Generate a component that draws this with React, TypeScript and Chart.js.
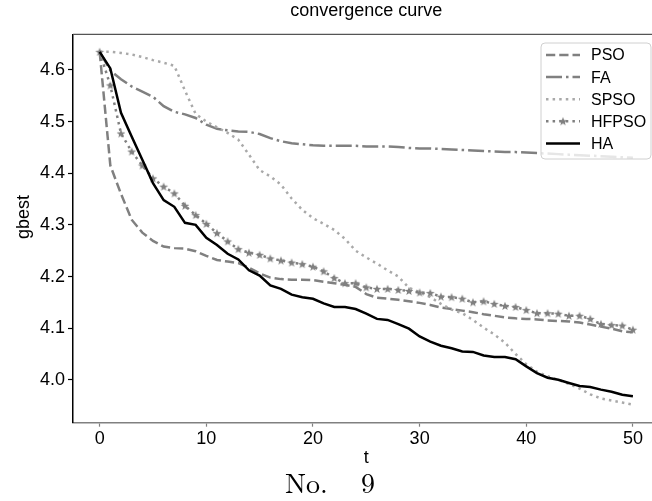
import React, { useEffect, useRef } from "react";
import { Chart, registerables } from "chart.js";

Chart.register(...registerables);

const seriesNames = ["PSO", "FA", "SPSO", "HFPSO", "HA"];
const tValues = Array.from({ length: 51 }, (_, i) => i);
const xTicks = [0, 10, 20, 30, 40, 50];
const yTicks = [4.0, 4.1, 4.2, 4.3, 4.4, 4.5, 4.6];

const psoValues = [
  4.635, 4.415, 4.36, 4.31, 4.285, 4.269, 4.258, 4.255, 4.254, 4.249,
  4.24, 4.232, 4.229, 4.226, 4.217, 4.206, 4.198, 4.195, 4.194, 4.194,
  4.193, 4.19, 4.187, 4.184, 4.18, 4.166, 4.159, 4.157, 4.155, 4.152,
  4.149, 4.145, 4.14, 4.137, 4.134, 4.131, 4.127, 4.124, 4.121, 4.119,
  4.118, 4.117, 4.115, 4.114, 4.113, 4.111, 4.107, 4.103, 4.099, 4.094,
  4.092,
];
const faValues = [
  4.635, 4.599, 4.582, 4.568, 4.558, 4.548, 4.53, 4.519, 4.514, 4.507,
  4.494, 4.486, 4.483, 4.481, 4.48, 4.476, 4.468, 4.462, 4.458, 4.456,
  4.454, 4.453, 4.453, 4.453, 4.453, 4.452, 4.452, 4.452, 4.451, 4.449,
  4.448, 4.448, 4.447, 4.446, 4.445, 4.444, 4.443, 4.442, 4.441, 4.441,
  4.44, 4.439, 4.438, 4.437, 4.436, 4.435, 4.434, 4.433, 4.432, 4.431,
  4.43,
];
const spsoValues = [
  4.635, 4.635, 4.633, 4.63, 4.625, 4.619, 4.614, 4.608, 4.56, 4.515,
  4.5, 4.489, 4.478, 4.465, 4.436, 4.406, 4.394, 4.378, 4.351, 4.329,
  4.313, 4.302, 4.29, 4.273, 4.25, 4.237, 4.225, 4.212, 4.2, 4.178,
  4.17, 4.16, 4.147, 4.136, 4.129, 4.116, 4.101, 4.088, 4.072, 4.05,
  4.03, 4.016, 4.007, 4.0, 3.992, 3.983, 3.972, 3.964, 3.96, 3.956,
  3.952,
];
const hfpsoValues = [
  4.635, 4.57, 4.477, 4.442, 4.415, 4.39, 4.374, 4.361, 4.337, 4.319,
  4.302, 4.284, 4.268, 4.253, 4.246, 4.242, 4.235, 4.231, 4.227, 4.224,
  4.219, 4.21, 4.197, 4.187, 4.187, 4.179, 4.176, 4.176, 4.174, 4.172,
  4.169, 4.168, 4.161, 4.16, 4.157, 4.15, 4.152, 4.147, 4.143, 4.141,
  4.135, 4.129, 4.129, 4.128, 4.124, 4.124, 4.118, 4.108, 4.106, 4.105,
  4.097,
];
const haValues = [
  4.635, 4.603, 4.517, 4.471, 4.426, 4.381, 4.348, 4.335, 4.304, 4.3,
  4.275, 4.261, 4.244, 4.233, 4.212, 4.202, 4.183, 4.176, 4.165, 4.16,
  4.157, 4.148, 4.141, 4.141, 4.137, 4.128, 4.118, 4.116, 4.108, 4.099,
  4.084, 4.074, 4.066, 4.061, 4.055, 4.054, 4.047, 4.044, 4.044, 4.04,
  4.026, 4.013, 4.004, 4.0, 3.994, 3.988, 3.986, 3.981, 3.977, 3.971,
  3.968,
];

const SANS = "'Liberation Sans', Arial, Helvetica, sans-serif";
const SERIF = "'Latin Modern Roman', 'Liberation Serif', 'DejaVu Serif', serif";

function makeStar(color: string): HTMLCanvasElement {
  const c = document.createElement("canvas");
  c.width = 10;
  c.height = 10;
  const ctx = c.getContext("2d")!;
  const cx = 5, cy = 5.3, R = 4.6, r = 1.9;
  ctx.beginPath();
  for (let i = 0; i < 10; i++) {
    const rad = i % 2 === 0 ? R : r;
    const a = -Math.PI / 2 + (i * Math.PI) / 5;
    const px = cx + rad * Math.cos(a);
    const py = cy + rad * Math.sin(a);
    if (i === 0) ctx.moveTo(px, py);
    else ctx.lineTo(px, py);
  }
  ctx.closePath();
  ctx.fillStyle = color;
  ctx.fill();
  return c;
}

export default function App() {
  const ref = useRef<HTMLCanvasElement | null>(null);

  useEffect(() => {
    if (!ref.current) return;
    const star = makeStar("#808080");
    const lw = 2.5;
    const styles = [
      { color: "#808080", dash: [9.25, 4], point: false },
      { color: "#808080", dash: [16, 4, 2.5, 4], point: false },
      { color: "#a9a9a9", dash: [2.5, 4.1], point: false },
      { color: "#808080", dash: [2.5, 4.1], point: true },
      { color: "#000000", dash: [], point: false },
    ];
    const values = [psoValues, faValues, spsoValues, hfpsoValues, haValues];

    const datasets = seriesNames.map((name, i) => ({
      label: name,
      data: tValues.map((t, k) => ({ x: t, y: values[i][k] })),
      borderColor: styles[i].color,
      backgroundColor: styles[i].color,
      borderWidth: lw,
      borderDash: styles[i].dash,
      borderCapStyle: "butt" as const,
      tension: 0,
      fill: false,
      pointRadius: styles[i].point ? 3 : 0,
      pointStyle: styles[i].point ? (star as any) : "circle",
      order: seriesNames.length - i,
    }));

    const decor = {
      id: "decor",
      afterDraw(chart: any) {
        const ctx = chart.ctx as CanvasRenderingContext2D;
        const a = chart.chartArea;
        ctx.save();
        // top spine
        ctx.strokeStyle = "#555555";
        ctx.lineWidth = 1.2;
        ctx.beginPath();
        ctx.moveTo(a.left, a.top);
        ctx.lineTo(a.right, a.top);
        ctx.stroke();

        // texts
        ctx.fillStyle = "#000";
        ctx.textAlign = "center";
        ctx.textBaseline = "middle";
        ctx.font = `18px ${SANS}`;
        const cx = (a.left + a.right) / 2;
        ctx.fillText("convergence curve", cx, 11);
        ctx.fillText("t", cx, 458);
        ctx.save();
        ctx.translate(24, 217);
        ctx.rotate(-Math.PI / 2);
        ctx.fillText("gbest", 0, 0);
        ctx.restore();
        ctx.font = `28px ${SERIF}`;
        (ctx as any).wordSpacing = "24px";
        ctx.fillText("No. 9", 330, 484);
        (ctx as any).wordSpacing = "0px";

        // legend
        const lx = 541, ly = 43, lwid = 110, lh = 116, rr = 4;
        ctx.beginPath();
        ctx.moveTo(lx + rr, ly);
        ctx.lineTo(lx + lwid - rr, ly);
        ctx.quadraticCurveTo(lx + lwid, ly, lx + lwid, ly + rr);
        ctx.lineTo(lx + lwid, ly + lh - rr);
        ctx.quadraticCurveTo(lx + lwid, ly + lh, lx + lwid - rr, ly + lh);
        ctx.lineTo(lx + rr, ly + lh);
        ctx.quadraticCurveTo(lx, ly + lh, lx, ly + lh - rr);
        ctx.lineTo(lx, ly + rr);
        ctx.quadraticCurveTo(lx, ly, lx + rr, ly);
        ctx.closePath();
        ctx.fillStyle = "rgba(255,255,255,0.8)";
        ctx.fill();
        ctx.strokeStyle = "#d0d0d0";
        ctx.lineWidth = 1;
        ctx.stroke();

        ctx.textAlign = "left";
        ctx.font = `16px ${SANS}`;
        chart.data.datasets.forEach((ds: any, i: number) => {
          const y = 55 + i * 22.1;
          ctx.save();
          ctx.strokeStyle = ds.borderColor;
          ctx.lineWidth = ds.borderWidth;
          ctx.setLineDash(ds.borderDash || []);
          ctx.lineCap = "butt";
          ctx.beginPath();
          ctx.moveTo(546, y);
          ctx.lineTo(580, y);
          ctx.stroke();
          ctx.restore();
          if (ds.pointRadius > 0 && typeof ds.pointStyle === "object") {
            const img = ds.pointStyle as HTMLCanvasElement;
            ctx.drawImage(img, 563 - img.width / 2, y - img.height / 2);
          }
          ctx.fillStyle = "#000";
          ctx.fillText(ds.label, 591, y + 1);
        });
        ctx.restore();
      },
    };

    const chart = new Chart(ref.current, {
      type: "line",
      data: { datasets },
      options: {
        animation: false,
        responsive: false,
        devicePixelRatio: 1,
        layout: { padding: { top: 34.3, right: 20.4, left: 0, bottom: 0 } },
        plugins: {
          legend: { display: false },
          title: { display: false },
          tooltip: { enabled: false },
        },
        scales: {
          x: {
            type: "linear",
            min: -2.5,
            max: 52.5,
            afterFit(scale: any) {
              scale.height = 78.3;
            },
            afterBuildTicks(scale: any) {
              scale.ticks = xTicks.map((v) => ({ value: v }));
            },
            grid: {
              drawOnChartArea: false,
              drawTicks: true,
              tickLength: 4,
              tickColor: "#808080",
              tickWidth: 1.2,
            },
            border: { display: true, color: "#808080", width: 1.5 },
            ticks: {
              color: "#000",
              font: { family: SANS, size: 18 },
              padding: 2,
              maxRotation: 0,
              callback: (v: any) => String(v),
            },
          },
          y: {
            type: "linear",
            min: 3.917,
            max: 4.669,
            afterFit(scale: any) {
              scale.width = 73;
            },
            afterBuildTicks(scale: any) {
              scale.ticks = yTicks.map((v) => ({ value: v }));
            },
            grid: {
              drawOnChartArea: false,
              drawTicks: true,
              tickLength: 5,
              tickColor: "#000",
              tickWidth: 1.2,
            },
            border: { display: true, color: "#000", width: 1.5 },
            ticks: {
              color: "#000",
              font: { family: SANS, size: 18 },
              padding: 3,
              callback: (v: any) => Number(v).toFixed(1),
            },
          },
        },
      },
      plugins: [decor],
    });
    return () => chart.destroy();
  }, []);

  return (
    <div
      style={{
        position: "fixed",
        left: 0,
        top: 0,
        width: 652,
        height: 501,
        overflow: "hidden",
        background: "#fff",
      }}
    >
      <canvas
        ref={ref}
        width={680}
        height={501}
        style={{ width: 680, height: 501, display: "block" }}
      />
    </div>
  );
}
